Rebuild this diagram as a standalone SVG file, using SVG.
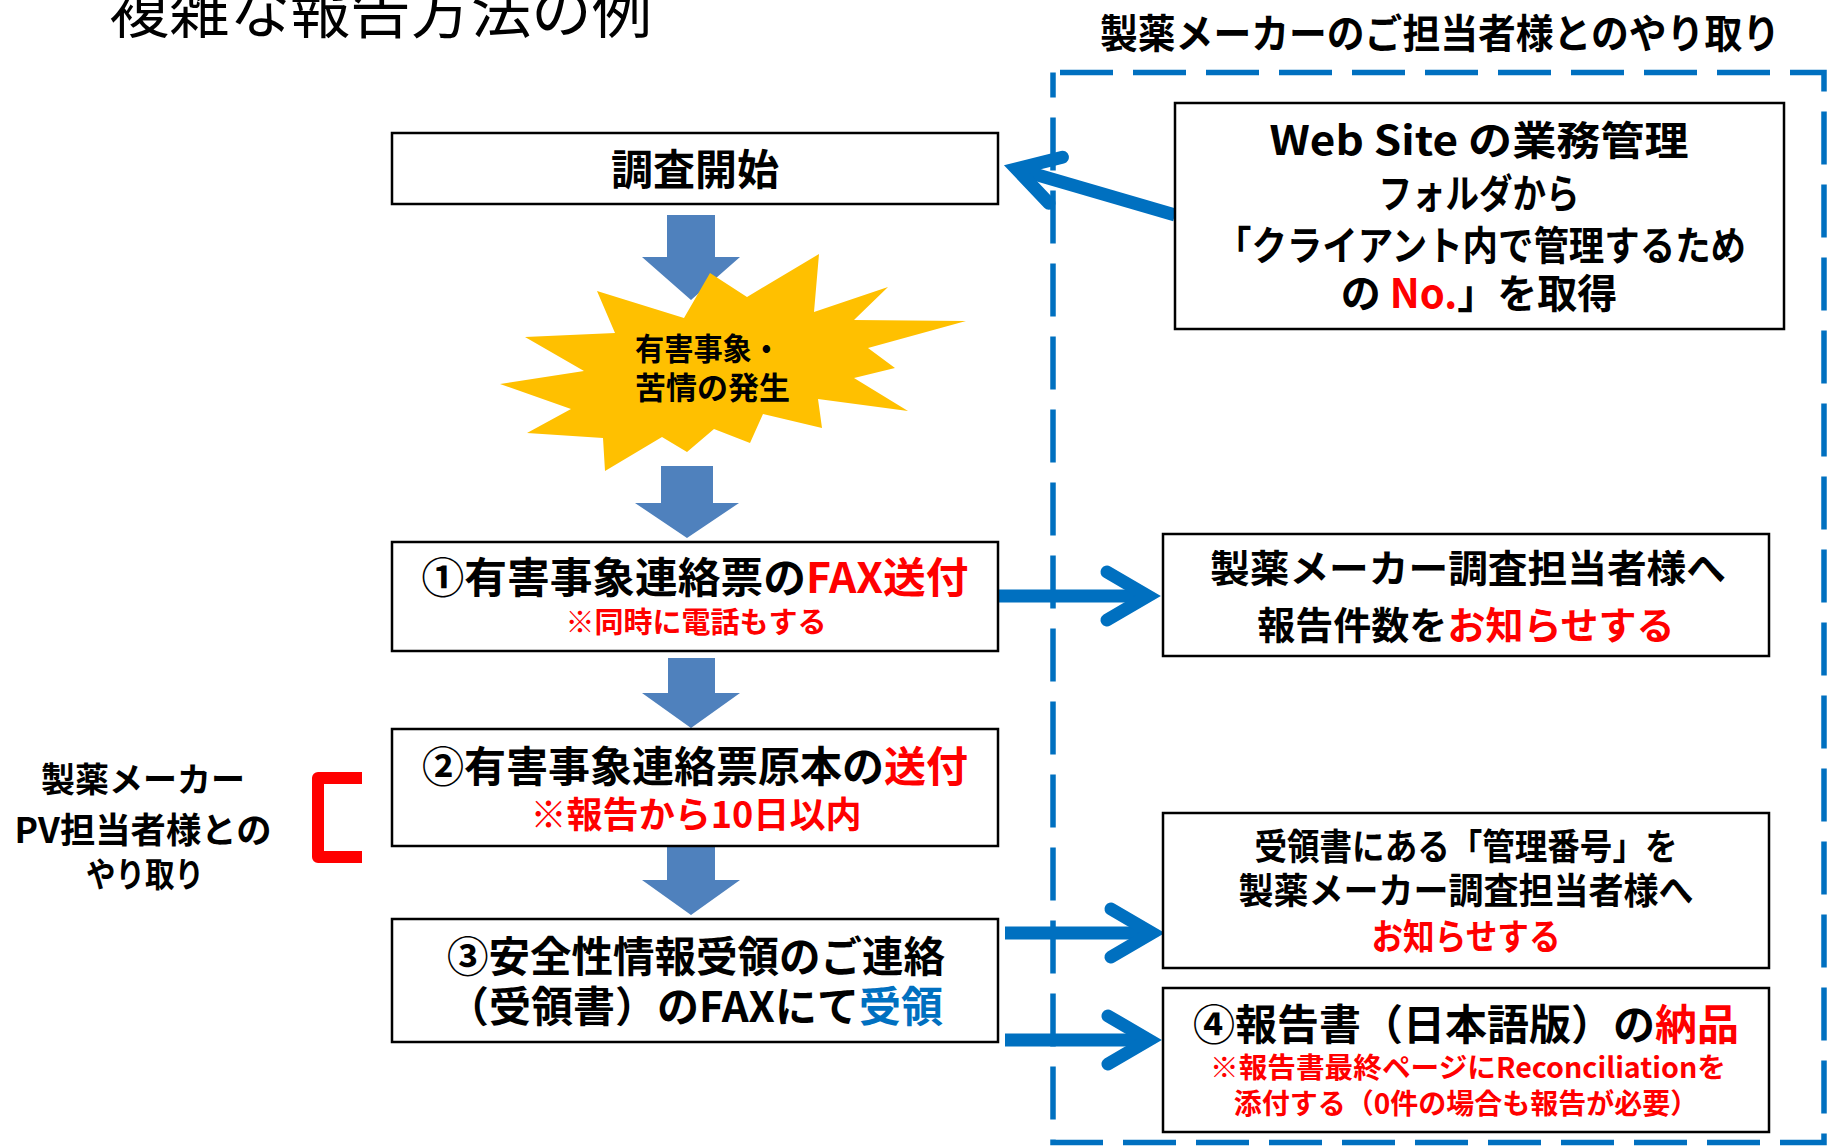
<svg xmlns="http://www.w3.org/2000/svg" width="1827" height="1148" viewBox="0 0 1827 1148">
<style>
text{font-family:"Noto Sans CJK JP","Noto Sans",sans-serif;font-weight:700;text-anchor:middle;fill:#000}
.r{fill:#FF0000}
.bl{fill:#0070C0}
.box{fill:#fff;stroke:#000;stroke-width:2.5}
.blk{fill:#4F81BD}
.conn{fill:none;stroke:#0070C0;stroke-width:13;marker-end:url(#ah)}
</style>
<defs>
<marker id="ah" markerUnits="userSpaceOnUse" orient="auto" refX="0" refY="0" markerWidth="80" markerHeight="80" overflow="visible">
<path d="M -33,-24 L 8,0 L -33,24" fill="none" stroke="#0070C0" stroke-width="13" stroke-linecap="round" stroke-linejoin="miter" stroke-miterlimit="6"/>
</marker>
</defs>
<rect width="1827" height="1148" fill="#fff"/>

<text id="title" x="109" y="33" font-size="60" style="text-anchor:start;font-weight:400" textLength="543" lengthAdjust="spacingAndGlyphs">複雑な報告方法の例</text>
<text id="header" x="1440" y="48" font-size="40" textLength="680" lengthAdjust="spacingAndGlyphs">製薬メーカーのご担当者様とのやり取り</text>

<rect id="region" x="1053" y="72.5" width="771" height="1070" fill="none" stroke="#0070C0" stroke-width="5.5" stroke-dasharray="53 20" stroke-dashoffset="66"/>

<g id="connectors">
<polygon class="blk" points="667,215 715,215 715,257 740,257 691,300 642,257 667,257"/>
<polygon class="blk" points="661,466 713,466 713,503 739,503 687,538 635,503 661,503"/>
<polygon class="blk" points="668,658 715,658 715,693 740,693 691,728 642,693 668,693"/>
<polygon class="blk" points="667,847 715,847 715,880 740,880 691,915 642,880 667,880"/>
<path class="conn" d="M 1175,215 L 1024,171"/>
<path class="conn" d="M 999,596 L 1140,596"/>
<path class="conn" d="M 1005,933 L 1144,933"/>
<path class="conn" d="M 1005,1040 L 1141,1040"/>
</g>

<g id="n-start">
<rect class="box" x="392" y="133" width="606" height="71"/>
<text x="695" y="185" font-size="42">調査開始</text>
</g>

<g id="n-event">
<polygon fill="#FFC000" points="710,273 747,297 819,254 814,312 888,287 854,320 966,321 868,348 895,368 854,378 908,411 818,399 822,428 763,414 750,443 714,429 687,452 662,437 605,471 603,438 527,433 571,409 500,384 584,371 525,337 615,333 597,291 684,318"/>
<text x="635" y="360" font-size="31" style="text-anchor:start" textLength="146" lengthAdjust="spacingAndGlyphs">有害事象・</text>
<text x="635" y="399" font-size="31" style="text-anchor:start">苦情の発生</text>
</g>

<g id="n-step1">
<rect class="box" x="392" y="542" width="606" height="109"/>
<text x="695" y="593" font-size="42" textLength="547" lengthAdjust="spacingAndGlyphs">①有害事象連絡票の<tspan class="r">FAX送付</tspan></text>
<text class="r" x="696" y="633" font-size="29">※同時に電話もする</text>
</g>

<g id="n-step2">
<rect class="box" x="392" y="729" width="606" height="117"/>
<text x="695" y="782" font-size="42">②有害事象連絡票原本の<tspan class="r">送付</tspan></text>
<text class="r" x="696" y="828" font-size="36" textLength="331" lengthAdjust="spacingAndGlyphs">※報告から10日以内</text>
</g>

<g id="n-step3">
<rect class="box" x="392" y="919" width="606" height="123"/>
<text x="696" y="972" font-size="42" textLength="498" lengthAdjust="spacingAndGlyphs">③安全性情報受領のご連絡</text>
<text x="695" y="1022" font-size="42">（受領書）のFAXにて<tspan class="bl">受領</tspan></text>
</g>

<g id="n-pv">
<text x="143" y="792" font-size="34">製薬メーカー</text>
<text x="143" y="843" font-size="35" textLength="257" lengthAdjust="spacingAndGlyphs">PV担当者様との</text>
<text x="145" y="887" font-size="34" textLength="118" lengthAdjust="spacingAndGlyphs">やり取り</text>
<path d="M 362,778 H 318 V 857 H 362" fill="none" stroke="#FF0000" stroke-width="12" stroke-linejoin="round"/>
</g>

<g id="n-web">
<rect class="box" x="1175" y="103" width="609" height="226"/>
<text x="1479" y="155" font-size="40" textLength="419" lengthAdjust="spacingAndGlyphs">Web Site の業務管理</text>
<text x="1479" y="208" font-size="40" textLength="201" lengthAdjust="spacingAndGlyphs">フォルダから</text>
<text x="1481" y="260" font-size="40" textLength="530" lengthAdjust="spacingAndGlyphs">「クライアント内で管理するため</text>
<text x="1479" y="308" font-size="40">の <tspan class="r">No.</tspan>」を取得</text>
</g>

<g id="n-notify">
<rect class="box" x="1163" y="534" width="606" height="122"/>
<text x="1468" y="582" font-size="38" textLength="516" lengthAdjust="spacingAndGlyphs">製薬メーカー調査担当者様へ</text>
<text x="1466" y="639" font-size="38">報告件数を<tspan class="r">お知らせする</tspan></text>
</g>

<g id="n-number">
<rect class="box" x="1163" y="813" width="606" height="155"/>
<text x="1466" y="860" font-size="36" textLength="423" lengthAdjust="spacingAndGlyphs">受領書にある「管理番号」を</text>
<text x="1466" y="904" font-size="36" textLength="455" lengthAdjust="spacingAndGlyphs">製薬メーカー調査担当者様へ</text>
<text class="r" x="1466" y="950" font-size="36" textLength="189" lengthAdjust="spacingAndGlyphs">お知らせする</text>
</g>

<g id="n-step4">
<rect class="box" x="1163" y="988" width="606" height="144"/>
<text x="1466" y="1040" font-size="42">④報告書（日本語版）の<tspan class="r">納品</tspan></text>
<text class="r" x="1468" y="1078" font-size="28" textLength="516" lengthAdjust="spacingAndGlyphs">※報告書最終ページにReconciliationを</text>
<text class="r" x="1466" y="1114" font-size="28">添付する（0件の場合も報告が必要）</text>
</g>
</svg>
